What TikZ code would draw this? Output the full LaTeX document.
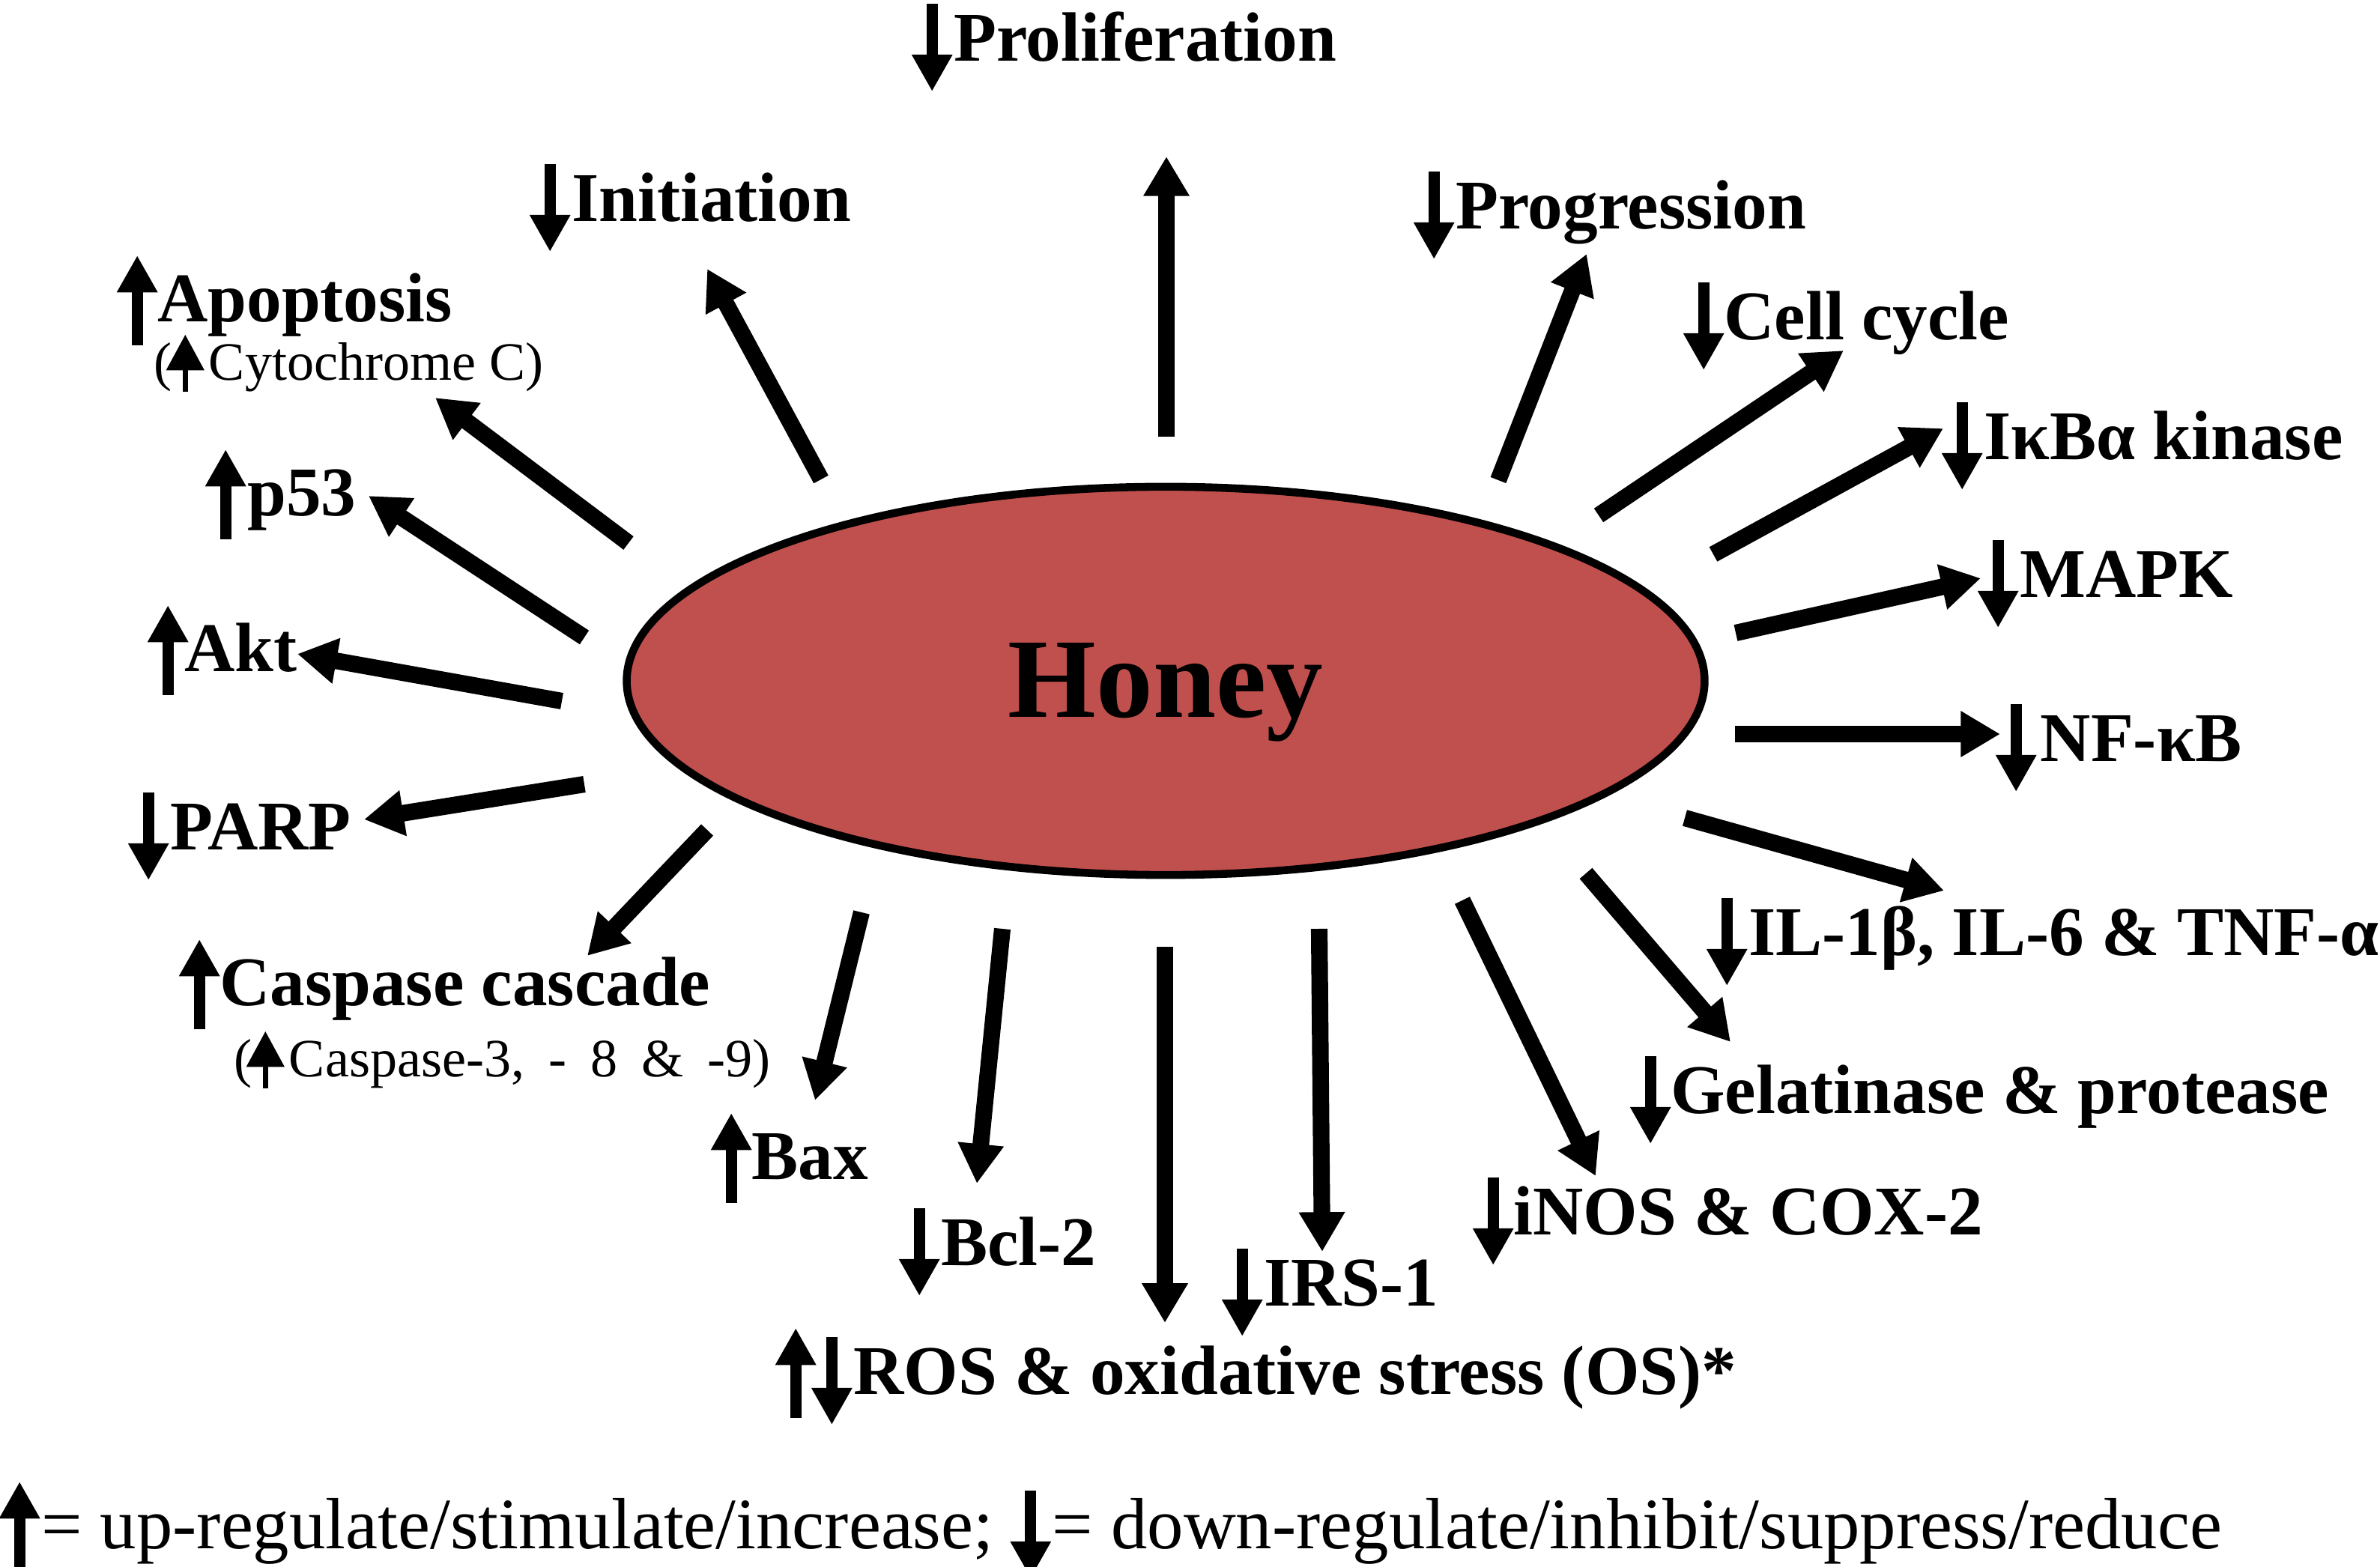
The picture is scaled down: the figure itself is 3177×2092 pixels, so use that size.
\documentclass[tikz,border=0pt]{standalone}
\usepackage{fontspec}
\setmainfont{Liberation Serif}
\usetikzlibrary{shapes.geometric}
\usetikzlibrary{arrows.meta}

\definecolor{honeyred}{RGB}{192,80,77}

\tikzset{
  bigarrow/.style={line width=6.3pt, -{Triangle[length=15pt,width=16.5pt]}},
  indarrow/.style={line width=4.3pt, -{Triangle[length=14pt,width=14.5pt]}},
  smallarrow/.style={line width=2pt, -{Triangle[length=13.5pt,width=14pt]}},
  lbl/.style={anchor=base west, inner sep=0pt, font=\fontsize{26.5}{30}\selectfont\bfseries},
  sublbl/.style={anchor=base west, inner sep=0pt, font=\fontsize{20.5}{24}\selectfont},
  legendtxt/.style={anchor=base west, inner sep=0pt, font=\fontsize{27.5}{32}\selectfont}
}

\newcommand{\uparr}{\tikz[baseline=0pt]\draw[indarrow] (0pt,-8.8pt) -- (0pt,25.3pt);}
\newcommand{\downarr}{\tikz[baseline=0pt]\draw[indarrow] (0pt,22pt) -- (0pt,-11.4pt);}
\newcommand{\smallup}{\tikz[baseline=0pt]\draw[smallarrow] (0pt,-4.3pt) -- (0pt,17.4pt);}

\begin{document}
\begin{tikzpicture}[x=0.01cm, y=-0.01cm]
        \useasboundingbox (0,0) rectangle (3177,2092);
        % honey in the middle
        \node[ellipse, draw, line width=3pt, fill=honeyred, minimum width=14.38cm, minimum height=5.18cm, inner sep=0pt] (honey) at (1556,909) {};
        \node[anchor=base, inner sep=0pt, font=\fontsize{43}{50}\selectfont\bfseries] (honeytxt) at (1556,958) {Honey};

        % labels, left side
        \node[lbl] (init) at (708,296) {\downarr\hspace{1pt}Initiation};
        \node[lbl] (apop) at (157,430) {\uparr\hspace{0.5pt}Apoptosis};
        \node[sublbl] (cyto) at (205,508) {(\hspace{-2pt}\smallup\hspace{2pt}Cytochrome C)};
        \node[lbl] (p53) at (275,689) {\uparr\hspace{1pt}p53};
        \node[lbl] (akt) at (198,897) {\uparr\hspace{-1pt}Akt};
        \node[lbl] (parp) at (172,1135) {\downarr\hspace{1pt}PARP};
        \node[lbl] (casp) at (240,1343) {\uparr\hspace{0.5pt}Caspase cascade};
        \node[sublbl] (caspsub) at (312,1438) {(\hspace{-2pt}\smallup\hspace{2pt}Caspase-3,\hspace{4pt} -\hspace{4pt} 8\hspace{4pt} \&\hspace{4pt} -9)};
        \node[lbl] (bax) at (950,1575) {\uparr\hspace{0.5pt}Bax};
        \node[lbl] (bcl) at (1201,1690) {\downarr\hspace{1pt}Bcl-2};

        % labels, top, bottom and right side
        \node[lbl] (prolif) at (1218,82) {\downarr\hspace{1pt}Proliferation};
        \node[lbl] (ros) at (1036,1862) {\uparr\hspace{-0.8pt}\downarr\hspace{1pt}ROS \& oxidative stress (OS)*};
        \node[lbl] (irs) at (1632,1744) {\downarr\hspace{1pt}IRS-1};
        \node[lbl] (inos) at (1967,1649) {\downarr\hspace{0.5pt}iNOS \& COX-2};
        \node[lbl] (gel) at (2177,1487) {\downarr\hspace{0.5pt}Gelatinase \& protease};
        \node[lbl] (il) at (2279,1276) {\downarr\hspace{1pt}IL-1β, IL-6 \& TNF-α};
        \node[lbl] (nfkb) at (2665,1017) {\downarr\hspace{2pt}NF-κB};
        \node[lbl] (mapk) at (2641,798) {\downarr\hspace{1pt}MAPK};
        \node[lbl] (ikb) at (2593,614) {\downarr\hspace{1pt}IκBα kinase};
        \node[lbl] (cell) at (2248,454) {\downarr\hspace{0.5pt}Cell cycle};
        \node[lbl] (prog) at (1888,306) {\downarr\hspace{1pt}Progression};

        % legend
        \node[legendtxt] (legend) at (0,2067) {\uparr\hspace{1pt}= up-regulate/stimulate/increase; \downarr\hspace{1pt}= down-regulate/inhibit/suppress/reduce};

        % arrow ends
        \coordinate (prolif-t) at (1557,583);  \coordinate (prolif-h) at (1557,209);
        \coordinate (init-t) at (1096,640);    \coordinate (init-h) at (944,359);
        \coordinate (apop-t) at (839,725);     \coordinate (apop-h) at (581,531);
        \coordinate (p53-t) at (780,851);      \coordinate (p53-h) at (492,662);
        \coordinate (akt-t) at (750,936);      \coordinate (akt-h) at (397,873);
        \coordinate (parp-t) at (780,1047);    \coordinate (parp-h) at (486,1094);
        \coordinate (casp-t) at (944,1108);    \coordinate (casp-h) at (784,1276);
        \coordinate (bax-t) at (1150,1218);    \coordinate (bax-h) at (1088,1469);
        \coordinate (bcl-t) at (1338,1240);    \coordinate (bcl-h) at (1304,1580);
        \coordinate (ros-t) at (1555,1264);    \coordinate (ros-h) at (1555,1766);
        \coordinate (irs-t) at (1761,1240);    \coordinate (irs-h) at (1765,1671);
        \coordinate (inos-t) at (1952,1202);   \coordinate (inos-h) at (2130,1570);
        \coordinate (gel-t) at (2117,1166);    \coordinate (gel-h) at (2310,1391);
        \coordinate (il-t) at (2249,1092);     \coordinate (il-h) at (2595,1189);
        \coordinate (nfkb-t) at (2316,980);    \coordinate (nfkb-h) at (2670,980);
        \coordinate (mapk-t) at (2317,845);    \coordinate (mapk-h) at (2644,772);
        \coordinate (ikb-t) at (2287,740);     \coordinate (ikb-h) at (2594,572);
        \coordinate (cell-t) at (2134,688);    \coordinate (cell-h) at (2461,468);
        \coordinate (prog-t) at (2000,641);    \coordinate (prog-h) at (2118,339);

        \draw[bigarrow] (prolif-t) -- (prolif-h);
        \draw[bigarrow] (init-t) -- (init-h);
        \draw[bigarrow] (apop-t) -- (apop-h);
        \draw[bigarrow] (p53-t) -- (p53-h);
        \draw[bigarrow] (akt-t) -- (akt-h);
        \draw[bigarrow] (parp-t) -- (parp-h);
        \draw[bigarrow] (casp-t) -- (casp-h);
        \draw[bigarrow] (bax-t) -- (bax-h);
        \draw[bigarrow] (bcl-t) -- (bcl-h);
        \draw[bigarrow] (ros-t) -- (ros-h);
        \draw[bigarrow] (irs-t) -- (irs-h);
        \draw[bigarrow] (inos-t) -- (inos-h);
        \draw[bigarrow] (gel-t) -- (gel-h);
        \draw[bigarrow] (il-t) -- (il-h);
        \draw[bigarrow] (nfkb-t) -- (nfkb-h);
        \draw[bigarrow] (mapk-t) -- (mapk-h);
        \draw[bigarrow] (ikb-t) -- (ikb-h);
        \draw[bigarrow] (cell-t) -- (cell-h);
        \draw[bigarrow] (prog-t) -- (prog-h);
\end{tikzpicture}
\end{document}
